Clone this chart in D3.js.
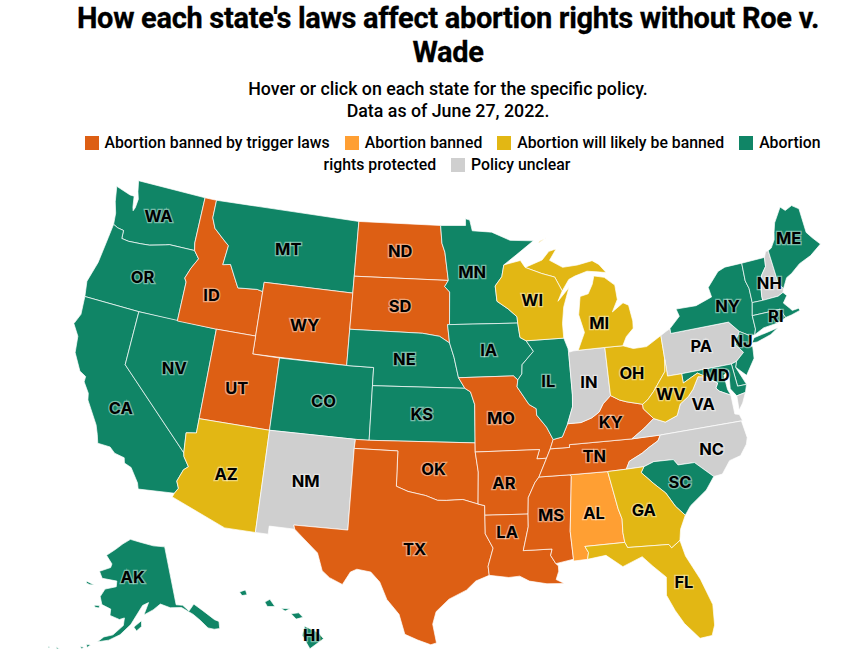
<!DOCTYPE html>
<html>
<head>
<meta charset="utf-8">
<script src="https://cdnjs.cloudflare.com/ajax/libs/d3/7.8.5/d3.min.js"></script>
<style>
  body { margin: 0; background: #fff; font-family: Roboto, "Noto Sans", sans-serif; color: #000; }
  #chart { position: relative; width: 865px; height: 670px; overflow: hidden; }
  .title { position: absolute; left: 48px; width: 800px; top: 1px; text-align: center; font-size: 29px; line-height: 34px; font-weight: 700; letter-spacing: -0.3px; -webkit-text-stroke: 0.3px #000; }
  .sub { position: absolute; left: 48px; width: 800px; top: 78px; text-align: center; font-size: 17.8px; line-height: 22px; font-weight: 500; }
  .legend { position: absolute; left: 72px; width: 750px; top: 132px; text-align: center; font-size: 15.8px; line-height: 22px; font-weight: 500; }
  .legend i { display: inline-block; width: 14px; height: 14px; margin: 0 6px 0 11px; vertical-align: -2px; }
  svg { position: absolute; left: 0; top: 0; }
  .lab { font-family: Inter, sans-serif; font-size: 16.5px; font-weight: 700; text-anchor: middle; dominant-baseline: central; paint-order: stroke; stroke: rgba(255,255,255,.45); stroke-width: 2.5px; }
</style>
</head>
<body>
<div id="chart"></div>
<script>
//DATA
var titleText = "How each state's laws affect abortion rights without Roe v. Wade";
var subLines = ['Hover or click on each state for the specific policy.', 'Data as of June 27, 2022.'];
var legendLabels = ['Abortion banned by trigger laws', 'Abortion banned', 'Abortion will likely be banned', 'Abortion rights protected', 'Policy unclear'];
var legendColors = ['#dd5f14', '#ff9f33', '#e2b714', '#108566', '#cfcfcf'];

var triggerStates = ['ID', 'WY', 'UT', 'ND', 'SD', 'TX', 'OK', 'MO', 'AR', 'LA', 'MS', 'TN', 'KY'];
var bannedStates = ['AL'];
var likelyStates = ['AZ', 'WI', 'MI', 'OH', 'WV', 'GA', 'FL'];
var protectedStates = ['WA', 'OR', 'CA', 'NV', 'MT', 'CO', 'NE', 'KS', 'MN', 'IA', 'IL', 'SC', 'NY', 'VT', 'ME', 'MA', 'CT', 'RI', 'NJ', 'DE', 'MD', 'AK', 'HI'];
var unclearStates = ['NM', 'IN', 'PA', 'NH', 'VA', 'NC'];

// rough state outlines, lon/lat
var outlines = {
  WA: [[[-124.35,48.35],[-123.1,48.1],[-122.75,48.1],[-122.6,47.5],[-122.5,47.3],[-122.4,47.5],[-122.35,48],[-122.55,48.4],[-122.75,49],[-117.03,49],[-117.04,46.42],[-116.92,46],[-118.98,46],[-119.3,45.93],[-120.5,45.7],[-121.2,45.65],[-122.2,45.6],[-122.76,45.65],[-122.8,46.1],[-123.3,46.15],[-123.7,46.27],[-123.8,46.9],[-124.1,47.5]]],
  OR: [[[-123.7,46.27],[-123.3,46.15],[-122.8,46.1],[-122.76,45.65],[-122.2,45.6],[-121.2,45.65],[-120.5,45.7],[-119.3,45.93],[-118.98,46],[-116.92,46],[-116.47,45.6],[-116.9,45],[-117.2,44.4],[-117.03,44.2],[-117.03,42],[-120,42],[-124.21,42],[-124.4,42.84],[-124,44],[-123.8,45.5]]],
  CA: [[[-124.21,42],[-120,42],[-120,39],[-114.63,35],[-114.57,34.8],[-114.14,34.3],[-114.43,34.08],[-114.72,33.4],[-114.52,33.03],[-114.72,32.72],[-117.12,32.53],[-117.25,32.85],[-117.9,33.6],[-118.4,33.75],[-118.5,34.03],[-119.2,34.15],[-119.6,34.42],[-120.47,34.45],[-120.65,34.9],[-120.9,35.4],[-121.9,36.6],[-122,36.96],[-122.5,37.5],[-122.5,37.8],[-123,38],[-123.7,38.9],[-123.85,39.8],[-124.4,40.4],[-124.1,41]]],
  NV: [[[-120,42],[-114.04,42],[-114.04,36.2],[-114.74,36.1],[-114.63,35],[-120,39]]],
  ID: [[[-117.03,49],[-116.05,49],[-116.05,48],[-115.7,47.45],[-114.95,47],[-114.35,46.65],[-114.5,45.56],[-113.9,45.65],[-113.45,45.05],[-113,44.45],[-111.5,44.55],[-111.05,44.48],[-111.05,42],[-114.04,42],[-117.03,42],[-117.03,44.2],[-117.2,44.4],[-116.9,45],[-116.47,45.6],[-116.92,46],[-117.04,46.42]]],
  MT: [[[-116.05,49],[-104.05,49],[-104.05,45.94],[-104.05,45],[-111.05,45],[-111.05,44.48],[-111.5,44.55],[-113,44.45],[-113.45,45.05],[-113.9,45.65],[-114.5,45.56],[-114.35,46.65],[-114.95,47],[-115.7,47.45],[-116.05,48]]],
  WY: [[[-111.05,45],[-104.05,45],[-104.05,43],[-104.05,41],[-111.05,41],[-111.05,42],[-111.05,44.48]]],
  UT: [[[-114.04,42],[-111.05,42],[-111.05,41],[-109.05,41],[-109.05,37],[-114.04,37]]],
  CO: [[[-109.05,41],[-104.05,41],[-102.05,41],[-102.05,40],[-102.04,37],[-103,37],[-109.05,37]]],
  AZ: [[[-114.04,37],[-109.05,37],[-109.05,31.33],[-111.07,31.33],[-114.81,32.5],[-114.72,32.72],[-114.52,33.03],[-114.72,33.4],[-114.43,34.08],[-114.14,34.3],[-114.57,34.8],[-114.63,35],[-114.74,36.1],[-114.04,36.2]]],
  NM: [[[-109.05,37],[-103,37],[-103.04,36.5],[-103.06,32],[-106.62,32],[-106.53,31.78],[-108.21,31.78],[-108.21,31.33],[-109.05,31.33]]],
  ND: [[[-104.05,49],[-97.23,49],[-97.1,48],[-96.85,47.5],[-96.56,45.94],[-104.05,45.94]]],
  SD: [[[-104.05,45.94],[-96.56,45.94],[-96.85,45.6],[-96.45,45.3],[-96.45,43.5],[-96.6,43.5],[-96.44,42.49],[-97.2,42.85],[-98.5,43],[-104.05,43],[-104.05,45]]],
  NE: [[[-104.05,43],[-98.5,43],[-97.2,42.85],[-96.44,42.49],[-96.1,41.7],[-95.77,40.58],[-95.31,40],[-102.05,40],[-102.05,41],[-104.05,41]]],
  KS: [[[-102.05,40],[-95.31,40],[-94.9,39.8],[-94.61,39.11],[-94.62,37],[-102.04,37]]],
  OK: [[[-103,37],[-102.04,37],[-94.62,37],[-94.62,36.5],[-94.43,35.4],[-94.48,33.64],[-95.5,33.9],[-96.6,33.85],[-97.2,33.85],[-98,34.1],[-99.2,34.3],[-100,34.56],[-100,36.5],[-103.04,36.5]]],
  TX: [[[-106.62,32],[-103.06,32],[-103.04,36.5],[-100,36.5],[-100,34.56],[-99.2,34.3],[-98,34.1],[-97.2,33.85],[-96.6,33.85],[-95.5,33.9],[-94.48,33.64],[-94.04,33.55],[-94.04,33.02],[-94.04,32],[-93.55,31.2],[-93.9,30.2],[-93.84,29.7],[-94.7,29.4],[-95.3,28.9],[-96.4,28.4],[-97.2,27.7],[-97.4,27],[-97.15,25.96],[-97.5,25.85],[-98.3,26.1],[-99.1,26.4],[-99.5,27.5],[-100.3,28.3],[-100.8,29.25],[-101.4,29.77],[-102.3,29.88],[-102.7,29.7],[-103.15,28.98],[-104,29.3],[-104.5,29.65],[-104.9,30.6],[-106,31.4],[-106.53,31.78]]],
  MN: [[[-97.23,49],[-95.15,49],[-95.15,49.38],[-94.8,49.3],[-94.6,48.7],[-93,48.6],[-91.5,48.1],[-89.6,48],[-91,47.3],[-92.1,46.75],[-92.3,46.1],[-92.85,45.6],[-92.75,44.75],[-91.9,44.3],[-91.25,43.85],[-91.22,43.5],[-96.45,43.5],[-96.45,45.3],[-96.85,45.6],[-96.56,45.94],[-96.85,47.5],[-97.1,48]]],
  IA: [[[-96.6,43.5],[-96.45,43.5],[-91.22,43.5],[-91.1,42.7],[-90.65,42.5],[-90.15,41.9],[-91.05,41.2],[-91.1,40.7],[-91.42,40.38],[-91.73,40.61],[-95.77,40.58],[-96.1,41.7],[-96.44,42.49]]],
  MO: [[[-95.77,40.58],[-91.73,40.61],[-91.42,40.38],[-91.5,40],[-90.7,39],[-90.2,38.75],[-90.2,38.4],[-89.55,37.7],[-89.15,37],[-89.4,36.5],[-89.7,36],[-90.37,36],[-90.15,36.5],[-94.62,36.5],[-94.62,37],[-94.61,39.11],[-94.9,39.8],[-95.31,40]]],
  AR: [[[-94.62,36.5],[-90.15,36.5],[-90.37,36],[-89.7,36],[-90.3,35],[-90.6,34.7],[-91.1,33.9],[-91.17,33],[-94.04,33.02],[-94.04,33.55],[-94.48,33.64],[-94.43,35.4]]],
  LA: [[[-94.04,33.02],[-91.17,33],[-91.2,32.3],[-91.6,31],[-89.73,31],[-89.85,30.65],[-89.55,30.18],[-89.4,30.05],[-89.4,29.75],[-89.6,29.3],[-89.1,29.05],[-90.2,29.1],[-91.3,29.3],[-91.9,29.6],[-92.6,29.55],[-93.84,29.7],[-93.9,30.2],[-93.55,31.2],[-94.04,32]]],
  MS: [[[-90.3,35],[-88.2,35],[-88.1,34.9],[-88.47,31.9],[-88.4,30.35],[-89.55,30.18],[-89.85,30.65],[-89.73,31],[-91.6,31],[-91.2,32.3],[-91.17,33],[-91.1,33.9],[-90.6,34.7]]],
  AL: [[[-88.2,35],[-85.6,34.98],[-85.18,32.87],[-85,32.3],[-85.05,31.55],[-85,31],[-87.6,31],[-87.4,30.65],[-87.5,30.28],[-88.4,30.25],[-88.4,30.35],[-88.47,31.9],[-88.1,34.9]]],
  TN: [[[-90.3,35],[-89.7,36],[-89.4,36.5],[-88.05,36.5],[-88.05,36.65],[-83.68,36.6],[-81.68,36.59],[-81.9,36.3],[-82.6,36],[-83.1,35.75],[-84.05,35.4],[-84.32,34.99],[-85.6,34.98],[-88.2,35]]],
  KY: [[[-89.4,36.5],[-89.15,37],[-88.5,37.1],[-88.05,37.8],[-87.1,37.8],[-86.3,38],[-85.75,38.27],[-85.4,38.7],[-84.8,39.1],[-84.2,38.8],[-83.7,38.65],[-82.6,38.4],[-82.6,38.15],[-81.97,37.54],[-82.7,37.1],[-83.68,36.6],[-88.05,36.65],[-88.05,36.5]]],
  IL: [[[-90.65,42.5],[-87.8,42.5],[-87.55,41.9],[-87.53,41.7],[-87.53,39.35],[-87.6,38.7],[-88.05,37.8],[-88.5,37.1],[-89.15,37],[-89.55,37.7],[-90.2,38.4],[-90.2,38.75],[-90.7,39],[-91.5,40],[-91.42,40.38],[-91.1,40.7],[-91.05,41.2],[-90.15,41.9]]],
  IN: [[[-87.53,41.7],[-87.2,41.75],[-86.8,41.76],[-84.8,41.76],[-84.8,39.1],[-85.4,38.7],[-85.75,38.27],[-86.3,38],[-87.1,37.8],[-88.05,37.8],[-87.6,38.7],[-87.53,39.35]]],
  OH: [[[-84.8,41.76],[-83.45,41.73],[-82.7,41.5],[-81.7,41.5],[-80.52,41.98],[-80.52,40.64],[-80.65,40],[-81.7,39],[-82.2,38.6],[-82.6,38.4],[-83.7,38.65],[-84.2,38.8],[-84.8,39.1]]],
  MI: [[[-86.8,41.76],[-84.8,41.76],[-83.45,41.73],[-83.1,42.2],[-82.5,42.6],[-82.45,43],[-82.6,43.9],[-83,44.07],[-83.9,43.65],[-83.4,44.3],[-83.45,45.1],[-84.2,45.6],[-85,45.75],[-85.2,45.3],[-85.6,44.8],[-86.25,44.7],[-86.5,43.7],[-86.2,42.7]],
       [[-90.4,46.55],[-89,46.9],[-88.4,47.35],[-87.8,47.45],[-88.4,46.85],[-87.4,46.4],[-86.2,46.45],[-85,46.6],[-84.5,46.35],[-84,45.85],[-84.7,45.95],[-85.5,46.05],[-86.5,45.85],[-87,45.7],[-87.6,45.1],[-88.1,45.9],[-89.1,46.15]],
       [[-89.2,47.85],[-88.5,48.15],[-88.6,48.1],[-89.1,47.95]]],
  WI: [[[-92.1,46.75],[-90.75,46.95],[-90.4,46.55],[-89.1,46.15],[-88.1,45.9],[-87.6,45.1],[-88,44.55],[-87.05,45.25],[-87.6,44.2],[-87.8,43.3],[-87.8,42.5],[-90.65,42.5],[-91.1,42.7],[-91.22,43.5],[-91.25,43.85],[-91.9,44.3],[-92.75,44.75],[-92.85,45.6],[-92.3,46.1]]],
  PA: [[[-80.52,41.98],[-80.1,42.15],[-79.76,42.27],[-79.76,42],[-75.35,42],[-74.7,41.36],[-75.1,40.95],[-75.2,40.7],[-74.75,40.2],[-75.4,39.8],[-75.8,39.72],[-79.48,39.72],[-80.52,39.72],[-80.52,40.64]]],
  NY: [[[-79.76,42],[-79.76,42.27],[-78.9,42.85],[-79.05,43.27],[-77.5,43.25],[-76.2,43.55],[-76.3,44.1],[-75.3,44.85],[-74.7,45],[-73.34,45],[-73.4,44],[-73.25,43.55],[-73.27,42.75],[-73.5,42.05],[-73.5,41.3],[-73.65,41],[-74,41],[-74.7,41.36],[-75.35,42]],
       [[-74,40.6],[-73.75,40.85],[-72.6,40.98],[-71.87,41.07],[-72.5,40.8],[-73.6,40.58]]],
  VT: [[[-73.34,45],[-71.5,45],[-71.6,44.5],[-72.05,44.1],[-72.3,43.6],[-72.45,43],[-72.46,42.73],[-73.27,42.75],[-73.25,43.55],[-73.4,44]]],
  NH: [[[-71.5,45],[-71.3,45.3],[-71.08,45.3],[-70.98,43.4],[-70.7,43.07],[-70.82,42.87],[-71.25,42.74],[-72.46,42.73],[-72.45,43],[-72.3,43.6],[-72.05,44.1],[-71.6,44.5]]],
  ME: [[[-71.08,45.3],[-70.8,45.4],[-70.4,45.8],[-70.25,46.2],[-70,46.7],[-69.23,47.46],[-68.9,47.2],[-68.3,47.36],[-67.8,47.07],[-67.8,45.7],[-67.45,45.3],[-67,44.85],[-68,44.4],[-69,44.15],[-69.8,43.75],[-70.25,43.6],[-70.7,43.07],[-70.98,43.4]]],
  MA: [[[-73.5,42.05],[-73.27,42.75],[-72.46,42.73],[-71.25,42.74],[-70.82,42.87],[-70.6,42.65],[-71,42.3],[-70.65,41.95],[-70.5,41.78],[-70,41.8],[-70.05,42.05],[-69.95,41.67],[-70.65,41.55],[-71.12,41.5],[-71.38,42.02],[-71.8,42.02]]],
  CT: [[[-73.5,42.05],[-71.8,42.02],[-71.85,41.32],[-72.9,41.25],[-73.65,41],[-73.5,41.3]]],
  RI: [[[-71.8,42.02],[-71.38,42.02],[-71.12,41.5],[-71.5,41.37],[-71.85,41.32]]],
  NJ: [[[-74.7,41.36],[-74,41],[-74.25,40.5],[-74,40.4],[-74.1,39.75],[-74.9,38.93],[-75.55,39.5],[-75.4,39.8],[-74.75,40.2],[-75.2,40.7],[-75.1,40.95]]],
  DE: [[[-75.8,39.72],[-75.4,39.8],[-75.55,39.5],[-75.05,38.45],[-75.7,38.46]]],
  MD: [[[-79.48,39.72],[-75.8,39.72],[-75.7,38.46],[-75.05,38.45],[-75.25,38.03],[-75.9,37.95],[-76.25,38.4],[-76.1,39.4],[-76.5,39.2],[-76.45,38.4],[-76.3,38.05],[-77.05,38.4],[-77.25,38.6],[-77.05,38.85],[-77.5,39.1],[-77.75,39.3],[-78.35,39.6],[-79.48,39.2]]],
  VA: [[[-77.05,38.85],[-77.25,38.6],[-77.05,38.4],[-76.3,38.05],[-76.3,37.5],[-76.3,37],[-76,36.92],[-75.87,36.55],[-81.68,36.59],[-83.68,36.6],[-82.7,37.1],[-81.97,37.54],[-81.2,37.25],[-80.3,37.5],[-79.95,38.1],[-79.3,38.42],[-78.87,38.77],[-78.35,39.4],[-77.75,39.3],[-77.5,39.1]],
       [[-75.25,38.03],[-75.9,37.95],[-75.95,37.15],[-75.6,37.5]]],
  WV: [[[-80.52,40.64],[-80.52,39.72],[-79.48,39.72],[-79.48,39.2],[-78.35,39.6],[-77.75,39.3],[-78.35,39.4],[-78.87,38.77],[-79.3,38.42],[-79.95,38.1],[-80.3,37.5],[-81.2,37.25],[-81.97,37.54],[-82.6,38.15],[-82.6,38.4],[-82.2,38.6],[-81.7,39],[-80.65,40]]],
  NC: [[[-75.95,36.55],[-81.68,36.59],[-81.9,36.3],[-82.6,36],[-83.1,35.75],[-84.05,35.4],[-84.32,34.99],[-83.11,35],[-82.4,35.2],[-81.05,35.15],[-80.8,34.82],[-79.67,34.8],[-78.55,33.86],[-77.95,33.9],[-77.3,34.55],[-76.5,34.7],[-75.95,35.25],[-75.8,35.6]]],
  SC: [[[-83.11,35],[-82.4,35.2],[-81.05,35.15],[-80.8,34.82],[-79.67,34.8],[-78.55,33.86],[-79.2,33.2],[-80.4,32.5],[-80.85,32.03],[-81.4,32.6],[-81.9,33.4],[-82.6,34],[-83.35,34.7]]],
  GA: [[[-85.6,34.98],[-84.32,34.99],[-83.11,35],[-83.35,34.7],[-82.6,34],[-81.9,33.4],[-81.4,32.6],[-80.85,32.03],[-81.3,31.3],[-81.45,30.7],[-82.05,30.36],[-82.2,30.57],[-84.86,30.7],[-85,31],[-85.05,31.55],[-85,32.3],[-85.18,32.87]]],
  FL: [[[-87.6,31],[-85,31],[-84.86,30.7],[-82.2,30.57],[-82.05,30.36],[-81.45,30.7],[-81.25,29.8],[-80.55,28.4],[-80.05,26.9],[-80.15,25.75],[-80.4,25.2],[-81.15,25.15],[-81.95,26.1],[-82.4,26.9],[-82.8,27.8],[-82.65,28.8],[-83.4,29.5],[-84,30.1],[-85.3,29.68],[-86.3,30.4],[-87.5,30.28],[-87.4,30.65]]],
  AK: [[[-141,69.65],[-141,60.3],[-139,60],[-137.5,58.9],[-135.5,59.75],[-133.5,58.4],[-131,56.4],[-130,55.9],[-130.5,54.8],[-132,55],[-133.5,55.5],[-135,57],[-136.5,58.2],[-139.5,59.7],[-143,60],[-146,60.8],[-148.5,60],[-151.5,59.3],[-149.8,61.2],[-151.8,60.8],[-153.5,59.5],[-155.5,57.8],[-158.5,56.1],[-161.5,55.1],[-164.5,54.6],[-163,55.5],[-160.5,56],[-157.7,57.6],[-157.5,58.8],[-159,58.5],[-162,59],[-162,60],[-165,60.5],[-166,61.7],[-164.8,63],[-161,63.6],[-161,64.5],[-166.5,64.6],[-168,65.6],[-164,66.5],[-163.7,67.1],[-166.5,68.3],[-163,69.5],[-160,70.5],[-156.6,71.3],[-152,70.85],[-146,70.1]],
       [[-154.6,57.4],[-152.3,58.4],[-152.3,57.5],[-153.8,56.8]],
       [[-167.4,60.2],[-165.7,60.3],[-165.7,59.9],[-167,59.9]],
       [[-171.7,63.6],[-168.8,63.3],[-170.3,63.2],[-171.7,63.3]],
       [[-167.3,53.9],[-166.2,53.9],[-167,53.4]],
       [[-168.8,53.3],[-167.9,53.4],[-168.3,53]],
       [[-174.9,52.3],[-173.9,52.1],[-174.5,52]],
       [[-176.9,51.95],[-176.4,51.95],[-176.6,51.7]]],
  HI: [[[-155.9,20.2],[-155.1,19.85],[-154.8,19.5],[-155.6,18.95],[-156.05,19.7]],
       [[-156.7,20.9],[-156.25,20.95],[-156,20.7],[-156.4,20.6]],
       [[-157.3,21.2],[-156.75,21.18],[-157.05,21.05]],
       [[-158.25,21.55],[-157.95,21.7],[-157.65,21.3],[-158.1,21.3]],
       [[-159.75,22.1],[-159.4,22.22],[-159.3,21.95],[-159.6,21.9]]]
};

// where the two-letter codes sit, lon/lat
var labelPoints = {
  WA: [-120.4,47.4], OR: [-120.4,43.9], CA: [-119.55,36.65], NV: [-116.5,39.45], ID: [-114.9,43.8], MT: [-109.55,47],
  WY: [-107.5,43], UT: [-111.8,39], CO: [-105.5,38.95], AZ: [-111.55,34.25], NM: [-106.15,34.5], ND: [-100.5,47.5],
  SD: [-100.3,44.45], NE: [-99.8,41.55], KS: [-98.4,38.55], OK: [-97.5,35.55], TX: [-98.65,31.15], MN: [-94.65,46.4],
  IA: [-93.5,42.1], MO: [-92.75,38.35], AR: [-92.7,34.75], LA: [-92.6,32.05], MS: [-89.65,32.9], AL: [-86.8,32.8],
  TN: [-86.4,35.9], KY: [-85,37.65], IL: [-89.2,40.2], IN: [-86.25,39.95], OH: [-83.05,40.2], MI: [-85,43.15],
  WI: [-90,44.7], PA: [-77.7,41], NY: [-75.15,42.9], VT: [-72.7,44], NH: [-71.65,43.55], ME: [-69.25,45.7],
  MA: [-71.7,42.3], CT: [-72.7,41.6], RI: [-71.8,41.7], NJ: [-74.7,40.85], DE: [-75.5,39], MD: [-77.05,39.3],
  VA: [-78.35,37.85], WV: [-80.5,38.75], NC: [-78.35,35.35], SC: [-80.85,33.85], GA: [-83.5,32.65], FL: [-81.6,28.4],
  AK: [-155.2,65.35], HI: [-155.5,19.7]
};
var hiddenLabels = ['VT', 'MA', 'CT', 'DE'];

//SETUP
var chart = d3.select('#chart');
chart.append('div').attr('class', 'title').text(titleText);
chart.append('div').attr('class', 'sub').selectAll('div').data(subLines).enter().append('div').text(function(d) { return d; });

// one span per word so a wrapped label keeps tight boxes
var legend = chart.append('div').attr('class', 'legend');
legendLabels.forEach(function(label, i) {
  legend.append('i').style('background', legendColors[i]);
  label.split(' ').forEach(function(word) {
    legend.append('span').text(word);
    legend.node().appendChild(document.createTextNode(' '));
  });
});

var colorOf = {};
[triggerStates, bannedStates, likelyStates, protectedStates, unclearStates].forEach(function(list, i) {
  list.forEach(function(code) { colorOf[code] = legendColors[i]; });
});

// d3 wants clockwise rings, flip any that came out inside-out
var features = Object.keys(outlines).map(function(code) {
  var polys = outlines[code].map(function(ring) {
    var closed = ring.concat([ring[0]]);
    var poly = { type: 'Polygon', coordinates: [closed] };
    if (d3.geoArea(poly) > 2 * Math.PI) poly.coordinates = [closed.slice().reverse()];
    return poly.coordinates;
  });
  return { type: 'Feature', id: code, geometry: { type: 'MultiPolygon', coordinates: polys } };
});

var projection = d3.geoAlbersUsa().scale(1035).translate([447, 412]);
var path = d3.geoPath(projection);

var svg = chart.append('svg').attr('width', 865).attr('height', 670);

svg.append('g').selectAll('path')
  .data(features)
  .enter().append('path')
    .attr('d', path)
    .attr('fill', function(d) { return colorOf[d.id]; })
    .attr('stroke', '#fff')
    .attr('stroke-width', 0.7)
    .attr('stroke-linejoin', 'round');

var labelCodes = Object.keys(labelPoints).filter(function(c) { return hiddenLabels.indexOf(c) < 0; });
svg.append('g').selectAll('text')
  .data(labelCodes)
  .enter().append('text')
    .attr('class', 'lab')
    .attr('x', function(d) { return projection(labelPoints[d])[0]; })
    .attr('y', function(d) { return projection(labelPoints[d])[1]; })
    .text(function(d) { return d; });
</script>
</body>
</html>
